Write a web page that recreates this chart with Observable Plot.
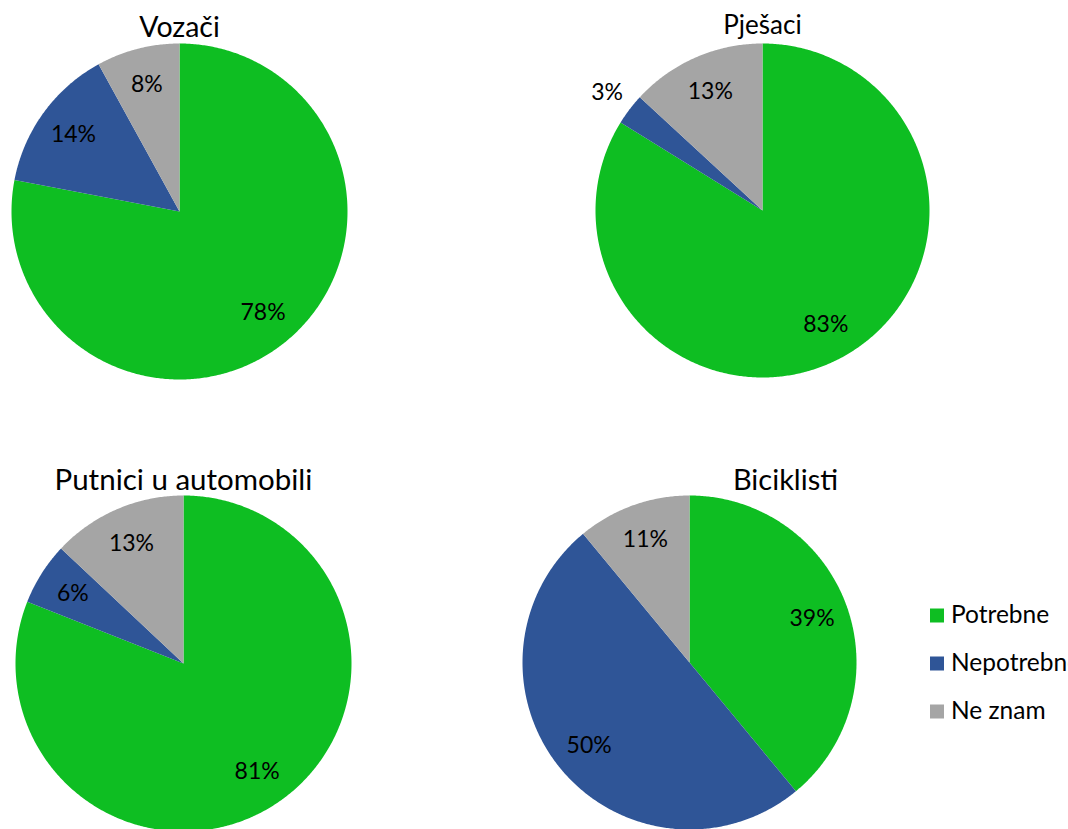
<!DOCTYPE html>
<html>
<head>
<meta charset="utf-8">
<script src="https://cdn.jsdelivr.net/npm/d3@7"></script>
<script src="https://cdn.jsdelivr.net/npm/@observablehq/plot@0.6"></script>
<style>
  html, body { margin: 0; padding: 0; background: #ffffff; }
  #chart { position: relative; width: 1068px; height: 829px; overflow: hidden; background: #ffffff; font-family: Lato, sans-serif; }
  #chart > div.slot { position: absolute; }
  #chart svg { overflow: visible; max-width: none; }
</style>
</head>
<body>
<div id="chart"></div>
<script>
// ---- data ----
const groups = ["Vozači", "Pješaci", "Putnici u automobili", "Biciklisti"];
const categories = ["Potrebne", "Nepotrebne", "Ne znam"];
const potrebne = [78, 83, 81, 39];
const nepotrebne = [14, 3, 6, 50];
const neZnam = [8, 13, 13, 11];
const colors = ["#0ebe22", "#2f5597", "#a5a5a5"];

// ---- layout (pixels) ----
const layout = [
  {cx: 179, cy: 211, r: 168, tdx: 0,  tdy: -7,  tsize: 28.5, lsize: 23},
  {cx: 762, cy: 210, r: 167, tdx: 0,  tdy: -10, tsize: 26,   lsize: 23},
  {cx: 183, cy: 663, r: 168, tdx: 0,  tdy: -6,  tsize: 29.5, lsize: 23},
  {cx: 689, cy: 662, r: 167, tdx: 96, tdy: -6,  tsize: 29,   lsize: 23}
];
const S = 480;

const chart = document.getElementById("chart");
const color = {domain: categories, range: colors};

groups.forEach((g, gi) => {
  const L = layout[gi];
  const vals = [potrebne[gi], nepotrebne[gi], neZnam[gi]];
  const rows = categories.map((c, i) => ({category: c, value: vals[i]}));
  const arcs = d3.pie().sort(null).value(d => d.value).startAngle(0).endAngle(2 * Math.PI)(rows);

  const poly = [];
  const labels = [];
  arcs.forEach((a, i) => {
    const n = Math.max(2, Math.ceil((a.endAngle - a.startAngle) / (Math.PI / 360)));
    poly.push({slice: i, category: a.data.category, x: 0, y: 0});
    for (let k = 0; k <= n; k++) {
      const t = a.startAngle + (a.endAngle - a.startAngle) * k / n;
      poly.push({slice: i, category: a.data.category, x: Math.sin(t), y: Math.cos(t)});
    }
    poly.push({slice: i, category: a.data.category, x: 0, y: 0});
    const mid = (a.startAngle + a.endAngle) / 2;
    const rr = a.data.value < 5 ? 1.17 : 0.78;
    labels.push({x: rr * Math.sin(mid), y: rr * Math.cos(mid), text: a.data.value + "%"});
  });

  const h = S / 2;
  const plot = Plot.plot({
    width: S,
    height: S,
    margin: 0,
    x: {domain: [-1, 1], range: [h - L.r, h + L.r], axis: null},
    y: {domain: [-1, 1], range: [h + L.r, h - L.r], axis: null},
    color,
    style: {fontFamily: "Lato, sans-serif", background: "transparent", overflow: "visible"},
    marks: [
      Plot.line(poly, {x: "x", y: "y", z: "slice", fill: "category", stroke: "none", curve: "linear"}),
      Plot.text(labels, {x: "x", y: "y", text: "text", fontSize: L.lsize, fill: "#000", lineAnchor: "middle", textAnchor: "middle"}),
      Plot.text([g], {x: () => 0, y: () => 1, text: d => d, dx: L.tdx, dy: L.tdy, fontSize: L.tsize, fill: "#000", lineAnchor: "bottom", textAnchor: "middle"})
    ]
  });
  const slot = document.createElement("div");
  slot.className = "slot";
  slot.style.left = (L.cx - h) + "px";
  slot.style.top = (L.cy - h) + "px";
  slot.appendChild(plot);
  chart.appendChild(slot);
});

// ---- legend ----
const legend = Plot.plot({
  width: 200,
  height: 150,
  margin: 0,
  x: {domain: [0, 1], range: [0, 200], axis: null},
  y: {type: "point", domain: categories, range: [25, 121.5], padding: 0, axis: null},
  color,
  style: {fontFamily: "Lato, sans-serif", background: "transparent", overflow: "visible"},
  marks: [
    Plot.dot(categories, {y: d => d, frameAnchor: "left", dx: 11.5, symbol: "square", r: 7.9, fill: d => d, stroke: "none"}),
    Plot.text(categories, {y: d => d, text: d => d, frameAnchor: "left", dx: 25.5, fontSize: 24.5, fill: "#000", textAnchor: "start", lineAnchor: "middle"})
  ]
});
const lslot = document.createElement("div");
lslot.className = "slot";
lslot.style.left = "925px";
lslot.style.top = "590px";
lslot.appendChild(legend);
chart.appendChild(lslot);
</script>
</body>
</html>
